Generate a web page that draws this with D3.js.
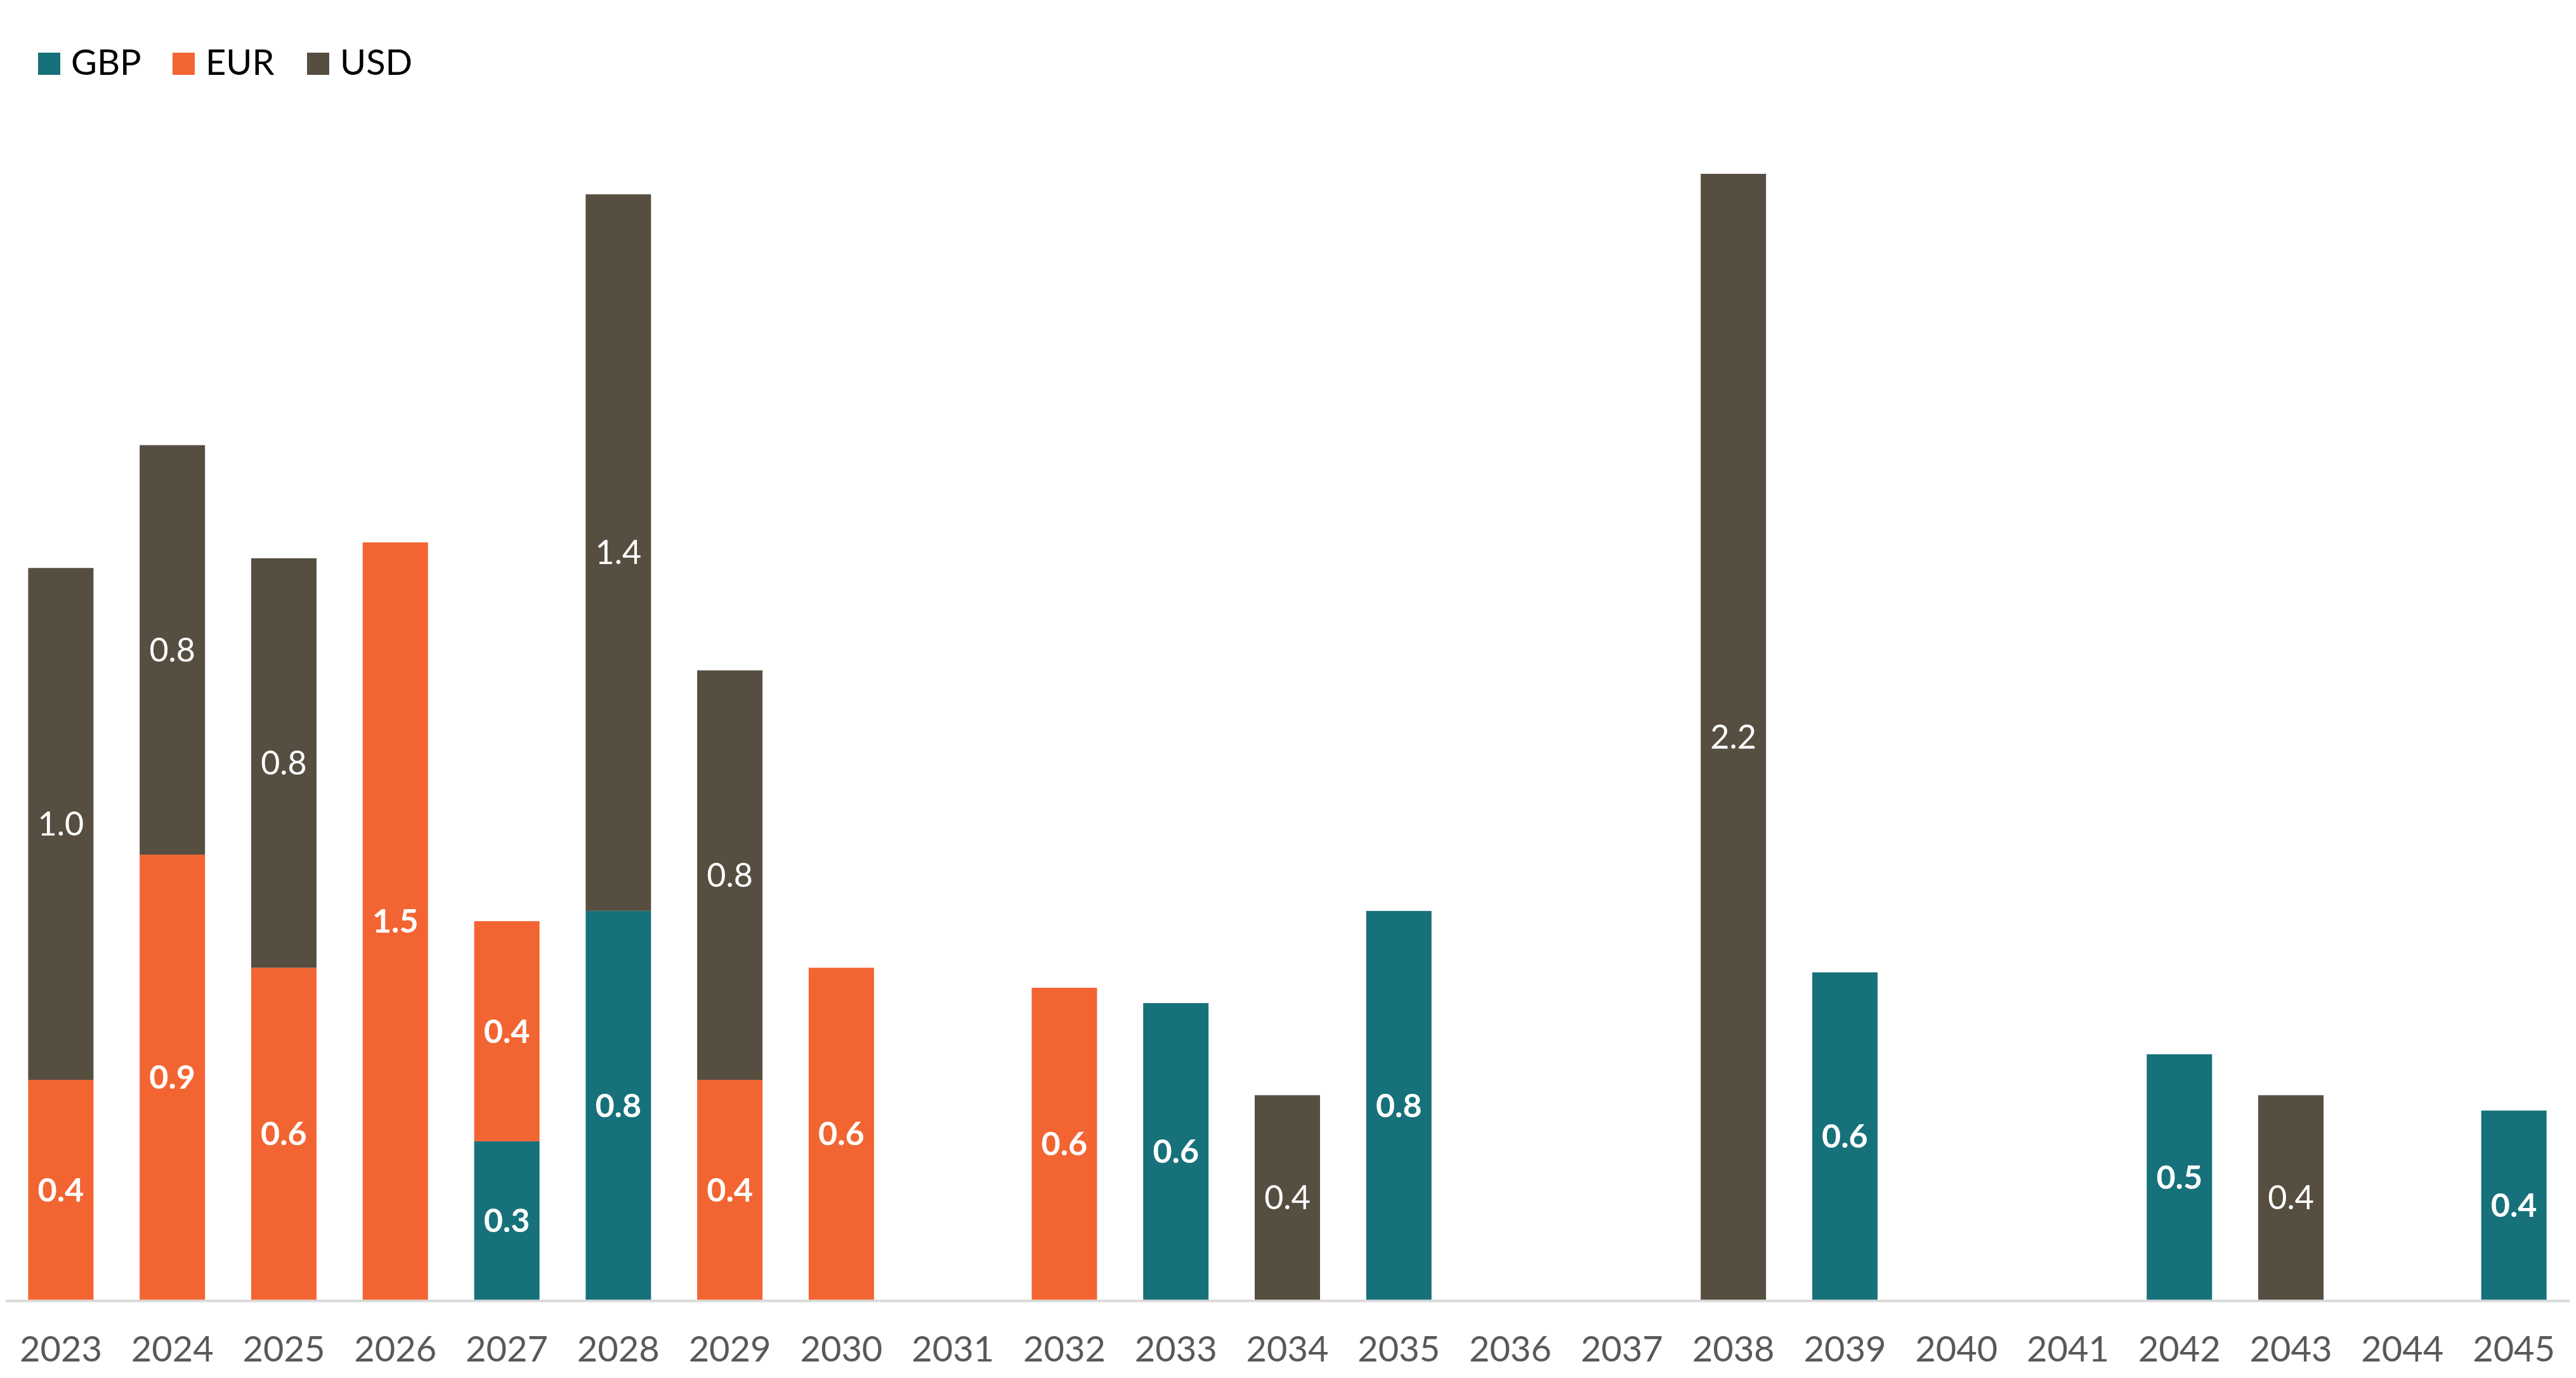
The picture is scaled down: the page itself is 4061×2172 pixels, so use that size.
<!DOCTYPE html>
<html>
<head>
<meta charset="utf-8">
<script src="https://cdnjs.cloudflare.com/ajax/libs/d3/7.8.5/d3.min.js"></script>
<style>
  body { margin: 0; background: #fff; }
  text { font-family: Lato, "Open Sans", sans-serif; }
</style>
</head>
<body>
<div id="chart-container"></div>
<script>
var years = ["2023","2024","2025","2026","2027","2028","2029","2030","2031","2032","2033","2034",
             "2035","2036","2037","2038","2039","2040","2041","2042","2043","2044","2045"];
var gbp = [0, 0, 0, 0, 0.31, 0.76, 0, 0, 0, 0, 0.58, 0, 0.76, 0, 0, 0, 0.64, 0, 0, 0.48, 0, 0, 0.37];
var eur = [0.43, 0.87, 0.649, 1.48, 0.43, 0, 0.43, 0.649, 0, 0.61, 0, 0, 0, 0, 0, 0, 0, 0, 0, 0, 0, 0, 0];
var usd = [1.0, 0.8, 0.8, 0, 0, 1.4, 0.8, 0, 0, 0, 0, 0.4, 0, 0, 0, 2.2, 0, 0, 0, 0, 0.4, 0, 0];
var series_names = ["GBP", "EUR", "USD"];
var series_colors = ["#16717a", "#f26532", "#564f41"];

var svg_width = 4061;
var svg_height = 2172;
var base_y = 2049;

var rows = years.map(function(y, i) {
	return {year: y, GBP: gbp[i], EUR: eur[i], USD: usd[i]};
});

var svg = d3.select("#chart-container")
	.append("svg")
	.attr("width", svg_width)
	.attr("height", svg_height);

var x = d3.scaleBand()
	.domain(years)
	.range([8, 4051])
	.paddingInner(0.414)
	.paddingOuter(0.207);

var y = d3.scaleLinear()
	.domain([0, 2.2])
	.range([base_y, 274]);

var color = d3.scaleOrdinal()
	.domain(series_names)
	.range(series_colors);

var stacked = d3.stack().keys(series_names)(rows);

var layers = svg.selectAll(".layer")
	.data(stacked)
	.enter().append("g")
	.attr("class", "layer")
	.attr("fill", function(d) { return color(d.key); });

layers.selectAll("rect")
	.data(function(d) { return d.filter(function(p) { return p[1] - p[0] > 0; }); })
	.enter().append("rect")
	.attr("x", function(d) { return x(d.data.year); })
	.attr("y", function(d) { return y(d[1]); })
	.attr("width", x.bandwidth())
	.attr("height", function(d) { return y(d[0]) - y(d[1]); });

// value labels
layers.each(function(s) {
	d3.select(this).selectAll(".val")
		.data(s.filter(function(p) { return p[1] - p[0] > 0; }))
		.enter().append("text")
		.attr("class", "val")
		.attr("x", function(d) { return x(d.data.year) + x.bandwidth() / 2; })
		.attr("y", function(d) { return (y(d[0]) + y(d[1])) / 2; })
		.attr("dy", "0.35em")
		.attr("text-anchor", "middle")
		.attr("fill", "#fff")
		.style("font-size", "52px")
		.style("font-weight", s.key == "USD" ? "normal" : "bold")
		.text(function(d) { return d3.format(".1f")(d[1] - d[0]); });
});

// x axis
var axis = svg.append("g")
	.attr("transform", "translate(0," + (base_y + 1) + ")")
	.call(d3.axisBottom(x).tickSize(0).tickSizeOuter(0).tickPadding(56));

axis.select(".domain")
	.attr("stroke", "#d9d9d9")
	.attr("stroke-width", 4);

axis.selectAll("text")
	.attr("fill", "#595959")
	.style("font-size", "56px")
	.style("font-family", "Lato, sans-serif");

// legend
var legend_x = [60, 272, 484];
var legend = svg.selectAll(".legend")
	.data(series_names)
	.enter().append("g")
	.attr("class", "legend")
	.attr("transform", function(d, i) { return "translate(" + legend_x[i] + ",83)"; });

legend.append("rect")
	.attr("width", 35)
	.attr("height", 35)
	.attr("fill", function(d) { return color(d); });

legend.append("text")
	.attr("x", 52)
	.attr("y", 35)
	.attr("fill", "#000")
	.style("font-size", "56px")
	.text(function(d) { return d; });
</script>
</body>
</html>
